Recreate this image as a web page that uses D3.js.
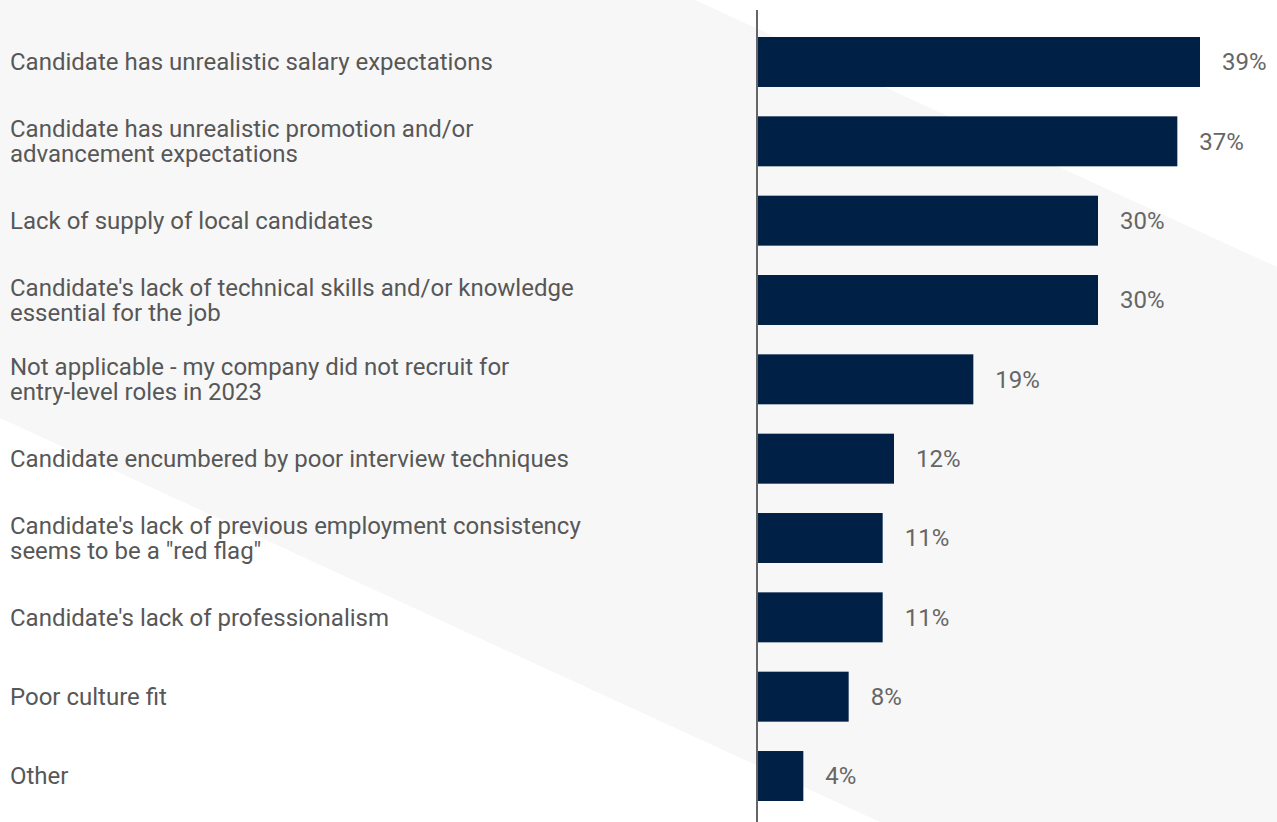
<!DOCTYPE html>
<html>
<head>
<meta charset="utf-8">
<script src="https://cdn.jsdelivr.net/npm/d3@7/dist/d3.min.js"></script>
<style>
  html, body { margin: 0; padding: 0; background: #ffffff; }
  svg { display: block; font-family: Roboto, "Noto Sans", sans-serif; }
</style>
</head>
<body>
<svg id="chart" width="1277" height="822"></svg>
<script>
// Reasons entry-level candidates were not hired
const categories = [
  ["Candidate has unrealistic salary expectations"],
  ["Candidate has unrealistic promotion and/or", "advancement expectations"],
  ["Lack of supply of local candidates"],
  ["Candidate's lack of technical skills and/or knowledge", "essential for the job"],
  ["Not applicable - my company did not recruit for", "entry-level roles in 2023"],
  ["Candidate encumbered by poor interview techniques"],
  ["Candidate's lack of previous employment consistency", "seems to be a \"red flag\""],
  ["Candidate's lack of professionalism"],
  ["Poor culture fit"],
  ["Other"]
];
const values = [39, 37, 30, 30, 19, 12, 11, 11, 8, 4];

const W = 1277, H = 822;
const svg = d3.select("#chart");

// decorative diagonal background band
svg.append("path")
  .attr("d", "M0,0 L695,0 L1277,267 L1277,822 L880,822 L0,418 Z")
  .attr("fill", "#f7f7f7");

const x0 = 758;
const x = d3.scaleLinear().domain([0, 39]).range([x0, 1200]);
const y = d3.scaleBand()
  .domain(d3.range(values.length))
  .range([37, 801])
  .paddingInner(0.37)
  .paddingOuter(0);

// bars
svg.append("g").selectAll("rect")
  .data(values)
  .join("rect")
  .attr("x", x(0))
  .attr("y", (d, i) => y(i))
  .attr("width", d => x(d) - x(0))
  .attr("height", y.bandwidth())
  .attr("fill", "#002145");

// value labels
svg.append("g").selectAll("text")
  .data(values)
  .join("text")
  .attr("x", d => x(d) + 22)
  .attr("y", (d, i) => y(i) + y.bandwidth() / 2)
  .attr("dy", "0.35em")
  .attr("font-size", 24)
  .attr("fill", "#666666")
  .text(d => d + "%");

// category labels
const lh = 25;
const cat = svg.append("g").selectAll("text")
  .data(categories)
  .join("text")
  .attr("x", 10)
  .attr("font-size", 24)
  .attr("fill", "#575757");
cat.each(function(lines, i) {
  const cy = y(i) + y.bandwidth() / 2;
  const top = cy - (lines.length - 1) * lh / 2;
  d3.select(this).selectAll("tspan")
    .data(lines)
    .join("tspan")
    .attr("x", 10)
    .attr("y", (l, j) => top + j * lh)
    .attr("dy", "0.35em")
    .text(l => l);
});

// vertical axis line
svg.append("line")
  .attr("x1", 757).attr("x2", 757)
  .attr("y1", 10).attr("y2", H)
  .attr("stroke", "#666666")
  .attr("stroke-width", 2);
</script>
</body>
</html>
